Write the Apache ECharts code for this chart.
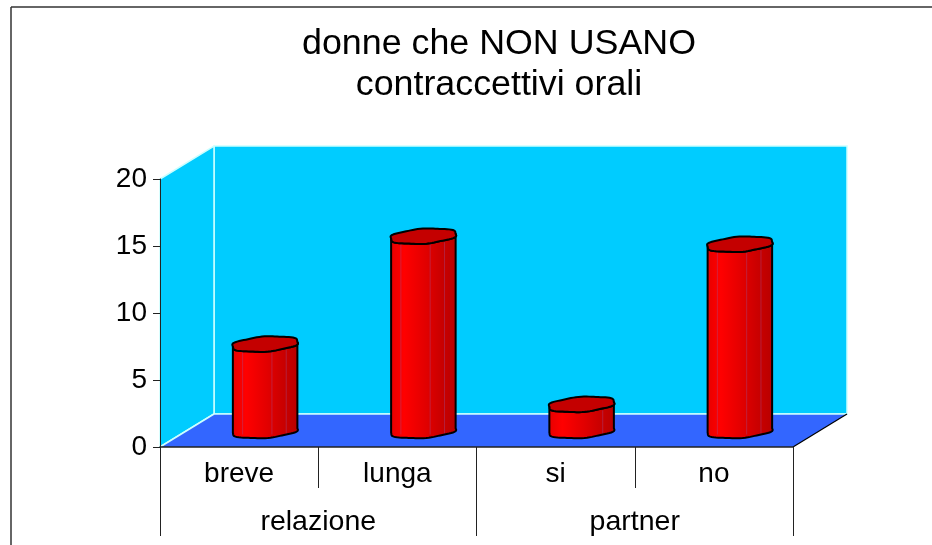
<!DOCTYPE html>
<html>
<head>
<meta charset="utf-8">
<title>donne che NON USANO contraccettivi orali</title>
<script src="https://cdn.jsdelivr.net/npm/echarts@6/dist/echarts.min.js"></script>
<style>
html,body{margin:0;padding:0;background:#fff}
#chart{width:932px;height:545px}
</style>
</head>
<body>
<div id="chart"></div>
<script>
// valori
var categories = ['breve', 'lunga', 'si', 'no']
var groups = ['relazione', 'partner']
var values = [6.45, 14.5, 1.95, 13.9]

var fontName = '"Liberation Sans", Arial, sans-serif'
var depthX = 54, depthY = 33   // profondita' del finto 3D
var barHalf = 32               // semilarghezza del cilindro
var ringX = 10, ringY = 7.8    // inclinazione dell'ellisse

function ring(cx, cy, t) {
	var r = 1 + 0.04 * Math.cos(6 * t + 1) // bordo irregolare come nell'originale
	return [
		cx + r * (barHalf * Math.cos(t) + ringX * Math.sin(t)),
		cy - r * ringY * Math.sin(t)
	]
}

function renderWalls(params, api) {
	var g = params.coordSys
	var x0 = g.x, x1 = g.x + g.width, yTop = g.y, yBot = g.y + g.height
	var edge = { stroke: '#ccffff', lineWidth: 1.5, fill: null }
	return {
		type: 'group',
		children: [
			{ type: 'polygon', shape: { points: [[x0 + depthX, yTop - depthY], [x1 + depthX, yTop - depthY], [x1 + depthX, yBot - depthY], [x0 + depthX, yBot - depthY]] }, style: { fill: '#00ccff', stroke: '#ccffff', lineWidth: 1.5 } },
			{ type: 'polygon', shape: { points: [[x0, yTop], [x0 + depthX, yTop - depthY], [x0 + depthX, yBot - depthY], [x0, yBot]] }, style: { fill: '#00ccff', stroke: '#ccffff', lineWidth: 1.5 } },
			{ type: 'polygon', shape: { points: [[x0, yBot], [x1, yBot], [x1 + depthX, yBot - depthY], [x0 + depthX, yBot - depthY]] }, style: { fill: '#3366ff' } },
			{ type: 'line', shape: { x1: x0, y1: yBot, x2: x0 + depthX, y2: yBot - depthY }, style: edge },
			{ type: 'line', shape: { x1: x0 + depthX, y1: yBot - depthY, x2: x1 + depthX, y2: yBot - depthY }, style: edge },
			{ type: 'line', shape: { x1: x1, y1: yBot, x2: x1 + depthX, y2: yBot - depthY }, style: { stroke: '#000', lineWidth: 1.2 } }
		]
	}
}

function renderBar(params, api) {
	var top = api.coord([api.value(0), api.value(1)])
	var base = api.coord([api.value(0), 0])
	var cx = top[0] + depthX / 2 - 1
	var cyTop = top[1] - depthY / 2
	var cyBase = base[1] - depthY / 2
	var a = Math.atan2(ringX, barHalf)
	var upper = [], lower = [], lid = []
	var i, t
	for (i = 0; i <= 40; i++) {
		t = Math.PI + a + Math.PI * i / 40
		upper.push(ring(cx, cyTop, t))
		lower.unshift(ring(cx, cyBase, t))
	}
	for (i = 0; i < 80; i++) {
		lid.push(ring(cx, cyTop, 2 * Math.PI * i / 80))
	}
	var side = upper.concat(lower)
	var xs = side.map(function (p) { return p[0] })
	var left = Math.min.apply(null, xs), right = Math.max.apply(null, xs)
	var children = [{
		type: 'polygon',
		shape: { points: side },
		style: {
			fill: new echarts.graphic.LinearGradient(0, 0, 1, 0, [
				{ offset: 0, color: '#e80000' },
				{ offset: 0.2, color: '#ff0000' },
				{ offset: 0.55, color: '#e00000' },
				{ offset: 0.75, color: '#cc0000' },
				{ offset: 1, color: '#b80000' }
			])
		}
	}]
	// righe sottili delle facce del cilindro
	;[0.15, 0.6, 0.82].forEach(function (f) {
		var fx = left + f * (right - left)
		if (cyBase - cyTop < 30 && f < 0.8) return
		children.push({
			type: 'line',
			shape: { x1: fx, y1: cyTop + 6, x2: fx, y2: cyBase + 4 },
			style: { stroke: 'rgba(150,90,170,0.35)', lineWidth: 1 }
		})
	})
	children.push({
		type: 'polygon',
		shape: { points: side },
		style: { fill: null, stroke: '#000', lineWidth: 2, lineJoin: 'round' }
	})
	children.push({
		type: 'polygon',
		shape: { points: lid },
		style: { fill: '#c40000', stroke: '#000', lineWidth: 2, lineJoin: 'round' }
	})
	return { type: 'group', children: children }
}

var myChart = echarts.init(document.getElementById('chart'), null, { renderer: 'canvas' })
myChart.setOption({
	animation: false,
	backgroundColor: '#fff',
	textStyle: { fontFamily: fontName },
	title: {
		text: 'donne che NON USANO\ncontraccettivi orali',
		left: 494,
		top: 19,
		textAlign: 'center',
		textStyle: { fontFamily: fontName, fontSize: 35.8, fontWeight: 'normal', color: '#000', lineHeight: 41 }
	},
	grid: { left: 160, right: 139, top: 179, bottom: 98 },
	xAxis: [
		{
			type: 'category',
			data: categories,
			z: 5,
			axisLine: { lineStyle: { color: '#222', width: 1.5 } },
			axisTick: { show: true, length: 41, lineStyle: { color: '#222', width: 1 } },
			axisLabel: { margin: 13, fontSize: 28, color: '#000', fontFamily: fontName }
		},
		{
			type: 'category',
			position: 'bottom',
			data: groups,
			z: 5,
			axisLine: { show: false },
			axisTick: { show: true, length: 89, lineStyle: { color: '#222', width: 1 } },
			axisLabel: { margin: 61, fontSize: 28.5, color: '#000', fontFamily: fontName }
		}
	],
	yAxis: {
		type: 'value',
		min: 0,
		max: 20,
		interval: 5,
		z: 5,
		splitLine: { show: false },
		axisLine: { show: true, lineStyle: { color: '#222', width: 1 } },
		axisTick: { show: true, length: 7, lineStyle: { color: '#222', width: 1 } },
		axisLabel: { margin: 13, fontSize: 28, color: '#000', fontFamily: fontName }
	},
	series: [
		{ type: 'custom', name: 'pareti', z: 1, silent: true, renderItem: renderWalls, data: [0] },
		{
			type: 'custom',
			name: 'donne',
			z: 3,
			renderItem: renderBar,
			encode: { x: 0, y: 1 },
			data: values.map(function (v, i) { return [i, v] })
		}
	],
	graphic: [
		{ type: 'line', z: 10, shape: { x1: 11, y1: 7, x2: 932, y2: 7 }, style: { stroke: '#333', lineWidth: 1.5 } },
		{ type: 'line', z: 10, shape: { x1: 11, y1: 7, x2: 11, y2: 545 }, style: { stroke: '#333', lineWidth: 1.5 } }
	]
})
</script>
</body>
</html>
